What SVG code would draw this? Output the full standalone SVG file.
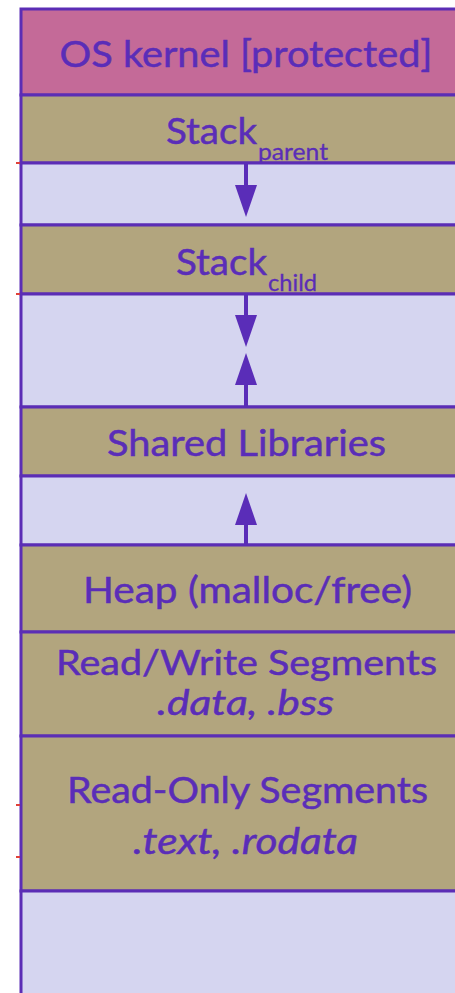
<svg xmlns="http://www.w3.org/2000/svg" width="455" height="993" viewBox="0 0 455 993">
<defs>
<style>
.band{stroke:#5B2DB5;stroke-width:3}
.k{fill:#C46A98}
.t{fill:#B2A57E}
.g{fill:#D5D5F0}
.lbl{font-family:Lato,"Open Sans",sans-serif;fill:#5A2DB8;stroke:#5A2DB8;stroke-width:0.5;font-size:37px;text-anchor:middle}
.sm{font-size:35px}
.sub{font-family:Lato,"Open Sans",sans-serif;fill:#5A2DB8;stroke:#5A2DB8;stroke-width:0.3;font-size:24px}
.it{font-style:italic}
.conn{stroke:#5A2DB8;stroke-width:4;fill:none}
.tick{stroke:#E0403A;stroke-width:2}
</style>
<marker id="ah" markerUnits="userSpaceOnUse" markerWidth="32" markerHeight="22" refX="0" refY="11" orient="auto">
<path d="M0,0 L32,11 L0,22 z" fill="#5A2DB8"/>
</marker>
</defs>
<rect width="455" height="993" fill="#ffffff"/>
<g id="kernel"><rect class="band k" x="21" y="9" width="440" height="86"/>
<text class="lbl" x="246" y="67" textLength="373" lengthAdjust="spacingAndGlyphs">OS kernel [protected]</text></g>
<g id="stack-parent"><rect class="band t" x="21" y="95" width="440" height="68"/>
<text class="lbl" x="211.5" y="144" textLength="91" lengthAdjust="spacingAndGlyphs">Stack</text>
<text class="sub" x="258" y="160" textLength="70" lengthAdjust="spacingAndGlyphs">parent</text></g>
<g id="gap1"><rect class="band g" x="21" y="163" width="440" height="62"/></g>
<g id="stack-child"><rect class="band t" x="21" y="225" width="440" height="69"/>
<text class="lbl" x="221.5" y="275" textLength="91" lengthAdjust="spacingAndGlyphs">Stack</text>
<text class="sub" x="268" y="291" textLength="49" lengthAdjust="spacingAndGlyphs">child</text></g>
<g id="gap2"><rect class="band g" x="21" y="294" width="440" height="113"/></g>
<g id="shared-libraries"><rect class="band t" x="21" y="407" width="440" height="69"/>
<text class="lbl" x="246.5" y="456" textLength="279" lengthAdjust="spacingAndGlyphs">Shared Libraries</text></g>
<g id="gap3"><rect class="band g" x="21" y="476" width="440" height="69"/></g>
<g id="heap"><rect class="band t" x="21" y="545" width="440" height="87"/>
<text class="lbl" x="247.5" y="603" textLength="329" lengthAdjust="spacingAndGlyphs">Heap (malloc/free)</text></g>
<g id="rw-segments"><rect class="band t" x="21" y="632" width="440" height="104"/>
<text class="lbl sm" x="246.5" y="675" textLength="381" lengthAdjust="spacingAndGlyphs">Read/Write Segments</text>
<text class="lbl sm it" x="245.5" y="715" textLength="177" lengthAdjust="spacingAndGlyphs">.data, .bss</text></g>
<g id="ro-segments"><rect class="band t" x="21" y="736" width="440" height="155"/>
<text class="lbl" x="247.5" y="803" textLength="361" lengthAdjust="spacingAndGlyphs">Read-Only Segments</text>
<text class="lbl it" x="245.5" y="854" textLength="225" lengthAdjust="spacingAndGlyphs">.text, .rodata</text></g>
<g id="bottom"><rect class="band g" x="21" y="891" width="440" height="110"/></g>
<g id="connectors">
<line class="conn" x1="246" y1="163" x2="246" y2="185" marker-end="url(#ah)"/>
<line class="conn" x1="246" y1="294" x2="246" y2="315" marker-end="url(#ah)"/>
<line class="conn" x1="246" y1="407" x2="246" y2="385" marker-end="url(#ah)"/>
<line class="conn" x1="246" y1="545" x2="246" y2="525" marker-end="url(#ah)"/>
</g>
<g id="ticks">
<line class="tick" x1="16" y1="163" x2="20" y2="163"/>
<line class="tick" x1="16" y1="294" x2="20" y2="294"/>
<line class="tick" x1="16" y1="805" x2="20" y2="805"/>
<line class="tick" x1="16" y1="857" x2="20" y2="857"/>
</g>
</svg>
